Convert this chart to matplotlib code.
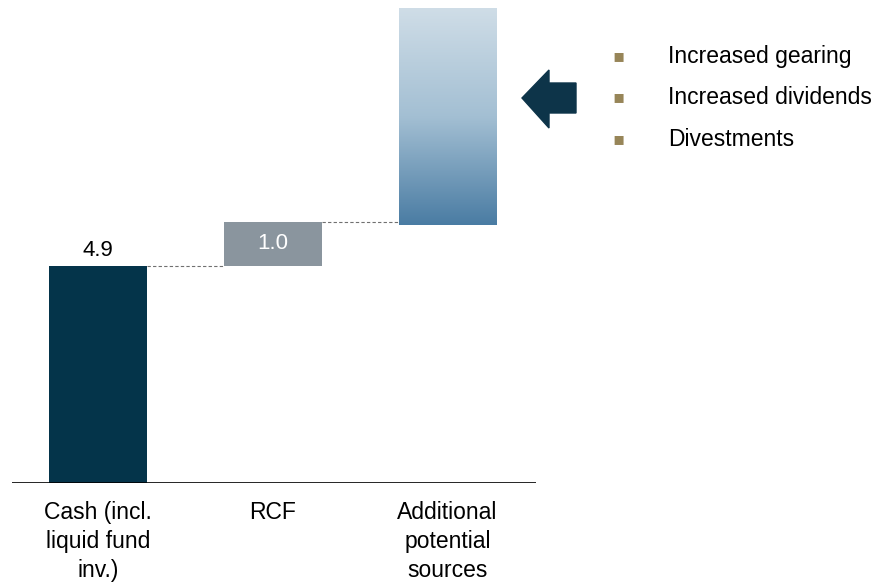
import matplotlib.pyplot as plt
import numpy as np
from matplotlib.colors import LinearSegmentedColormap
from matplotlib.patches import Polygon

plt.rcParams['font.family'] = ['Liberation Sans', 'DejaVu Sans']

# data
categories = ['Cash (incl.\nliquid fund\ninv.)', 'RCF', 'Additional\npotential\nsources']
cash = 4.9
rcf = 1.0
additional_bottom = 5.82
additional_top = 10.7
bullets = ['Increased gearing', 'Increased dividends', 'Divestments']

fig = plt.figure(figsize=(8.78, 5.87), dpi=100)
ax = fig.add_axes([12 / 878, 1 - 483 / 587, 524 / 878, 483 / 587])
ax.set_xlim(-0.49, 2.506)
ax.set_ylim(0, 10.9)

w = 0.56
ax.bar(0, cash, width=w, color='#04344a', zorder=2)
ax.bar(1, rcf, bottom=cash, width=w, color='#8a959e', zorder=2)

# gradient bar for additional sources
cmap = LinearSegmentedColormap.from_list('blu', ['#4a7ca3', '#a3bfd3', '#cfdde7'])
grad = np.linspace(0, 1, 256).reshape(-1, 1)
ax.imshow(grad, cmap=cmap, origin='lower', aspect='auto',
          extent=(2 - w / 2, 2 + w / 2, additional_bottom, additional_top), zorder=2)

# connectors
ax.plot([0 + w / 2, 1 - w / 2], [cash, cash], ls=(0, (3, 2)), color='#707070', lw=0.8)
ax.plot([1 + w / 2, 2 - w / 2], [cash + rcf, cash + rcf], ls=(0, (3, 2)), color='#707070', lw=0.8)

ax.text(0, cash + 0.12, f'{cash:.1f}', ha='center', va='bottom', fontsize=16, color='black')
ax.text(1, cash + rcf / 2, f'{rcf:.1f}', ha='center', va='center', fontsize=16, color='white')

ax.axhline(0, color='black', lw=1.2)
for s in ax.spines.values():
    s.set_visible(False)
ax.set_yticks([])
ax.set_xticks(range(len(categories)))
ax.set_xticklabels(categories, fontsize=16.5, linespacing=1.32)
ax.tick_params(axis='x', length=0, pad=13)

# arrow
arrow = Polygon([(522, 98), (549, 70), (549, 83), (576, 83), (576, 113), (549, 113), (549, 128)],
                closed=True, color='#0d3449', transform=None)
arrow_pts = np.array(arrow.get_xy())
arrow_pts[:, 1] = 587 - arrow_pts[:, 1]
arrow.set_xy(arrow_pts)
fig.patches.append(arrow)

# bullet list
for i, b in enumerate(bullets):
    y = 1 - (56 + i * 41.5) / 587
    fig.text(619 / 878, y, '\u25aa', color='#978558', fontsize=13, ha='center', va='center',
             family=['DejaVu Sans'])
    fig.text(668 / 878, y, b, fontsize=16.5, ha='left', va='center')

fig.savefig('out.png', dpi=100)
